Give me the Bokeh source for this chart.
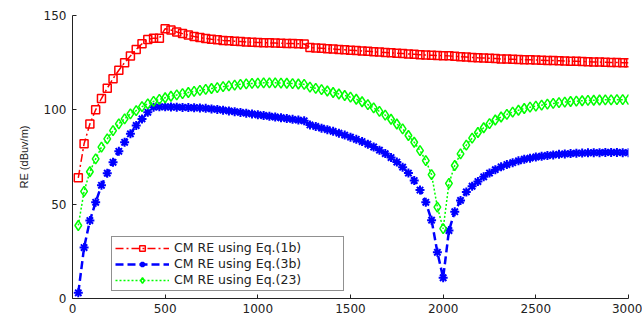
import numpy as np
from bokeh.plotting import figure
from bokeh.models import Legend, LegendItem, Label, FixedTicker, Range1d
from bokeh.embed import file_html
from bokeh.resources import INLINE

# Frequency samples (MHz)
freq = np.linspace(31.25, 3000, 96)

# CM RE using Eq.(1b)
re_1b = [64, 82, 92.5, 100, 106, 111.5, 116.5, 121, 125, 128.5,
         132, 135, 137.3, 138, 138, 143, 142.3, 141.3, 140.4, 139.6,
         138.9, 138.3, 137.8, 137.4, 137.1, 136.8, 136.6, 136.4, 136.2, 136,
         135.8, 135.7, 135.6, 135.5, 135.4, 135.3, 135.2, 135.1, 135, 134.9,
         133, 132.8, 132.6, 132.4, 132.2, 132, 131.8, 131.6, 131.4, 131.2,
         131, 130.8, 130.6, 130.4, 130.2, 130, 129.8, 129.6, 129.4, 129.2,
         129, 128.9, 128.8, 128.7, 128.6, 128.4, 128.2, 128, 127.8, 127.6,
         127.5, 127.3, 127.2, 127, 126.9, 126.8, 126.7, 126.6, 126.5, 126.4,
         126.3, 126.2, 126.1, 126, 125.9, 125.8, 125.7, 125.6, 125.5, 125.4,
         125.3, 125.2, 125.1, 125.1, 125, 125]

# CM RE using Eq.(3b)
re_3b = [3, 27, 41.3, 51, 60, 66.4, 72.2, 78, 82.8, 87.3,
         91.7, 95.2, 98.7, 101.4, 101.6, 101.6, 101.5, 101.4, 101.3, 101.2,
         101.1, 101, 100.8, 100.5, 100.2, 99.8, 99.4, 99, 98.6, 98.2,
         97.8, 97.4, 97, 96.6, 96.2, 95.8, 95.4, 95, 94.6, 94.2,
         92, 91.2, 90.3, 89.5, 88.6, 87.6, 86.6, 85.5, 84.4, 83.2,
         81.8, 80.3, 78.6, 76.8, 74.7, 72.3, 69.6, 66.5, 62.5, 57.5,
         51, 41.5, 24.5, 11, 36, 46, 52, 56.5, 59.5, 62,
         64.5, 66.5, 68.3, 69.8, 71, 72, 73, 73.8, 74.4, 75,
         75.4, 75.8, 76.1, 76.4, 76.6, 76.8, 77, 77.1, 77.2, 77.3,
         77.3, 77.4, 77.4, 77.4, 77.3, 77.3]

# CM RE using Eq.(23)
re_23 = [38.7, 56.8, 67.2, 74, 80.2, 84.6, 89, 92.6, 95.2, 97.9,
         99.6, 101.7, 103.2, 104.5, 105.5, 106.4, 107.2, 107.9, 108.6, 109.2,
         109.8, 110.3, 110.8, 111.3, 111.8, 112.3, 112.7, 113.1, 113.5, 113.8,
         114, 114.2, 114.3, 114.3, 114.3, 114.2, 114.1, 113.9, 113.7, 113.5,
         112, 111.4, 110.7, 110, 109.2, 108.4, 107.6, 106.7, 105.6, 104.3,
         102.8, 101, 99.2, 97.2, 95, 92.5, 89.9, 86.4, 82.8, 78.4,
         73.1, 65.7, 48.4, 37, 61, 70.5, 76.7, 81.3, 85, 88,
         90.5, 92.7, 94.6, 96.2, 97.6, 98.8, 99.8, 100.7, 101.4, 102,
         102.5, 103, 103.4, 103.8, 104.1, 104.4, 104.6, 104.8, 105, 105.1,
         105.2, 105.3, 105.3, 105.4, 105.4, 105.4]

labels = ["CM RE using Eq.(1b)", "CM RE using Eq.(3b)", "CM RE using Eq.(23)"]
x_ticks = [0, 500, 1000, 1500, 2000, 2500, 3000]
y_ticks = [0, 50, 100, 150]

p = figure(width=642, height=329, output_backend="svg", toolbar_location=None,
           x_range=Range1d(0, 3000), y_range=Range1d(0, 150),
           min_border_left=72, min_border_right=14, min_border_top=15, min_border_bottom=31)
p.outline_line_color = None
p.xgrid.visible = False
p.ygrid.visible = False
p.background_fill_color = "white"
p.border_fill_color = "white"

for ax in (p.xaxis[0], p.yaxis[0]):
    ax.ticker = FixedTicker(ticks=x_ticks if ax is p.xaxis[0] else y_ticks)
    ax.major_tick_in = 4
    ax.major_tick_out = 0
    ax.minor_tick_line_color = None
    ax.axis_line_color = "#222222"
    ax.major_tick_line_color = "#222222"
    ax.major_label_text_font = "DejaVu Sans"
    ax.major_label_text_font_size = "12px"
    ax.major_label_text_color = "#222222"

p.xaxis.major_label_standoff = 5
p.yaxis.major_label_standoff = 6
p.yaxis.axis_label = "RE (dBuv/m)"
p.yaxis.axis_label_text_font = "Liberation Sans"
p.yaxis.axis_label_text_font_size = "11px"
p.yaxis.axis_label_text_font_style = "normal"
p.yaxis.axis_label_text_color = "#222222"
p.yaxis.axis_label_standoff = 11

r_line = p.line(freq, re_1b, line_color="#ff0000", line_width=1.5, line_dash="8 3 2 3")
r_mark = p.scatter(freq, re_1b, marker="square", size=8, fill_color=None,
                   line_color="#ff0000", line_width=1.5)
b_line = p.line(freq, re_3b, line_color="#0000ff", line_width=2.5, line_dash="8 4")
b_mark = p.scatter(freq, re_3b, marker="asterisk", size=9,
                   line_color="#0000ff", line_width=2)
g_line = p.line(freq, re_23, line_color="#00ff00", line_width=1.5, line_dash="2 2")
g_mark = p.scatter(freq, re_23, marker="diamond", size=10, fill_color=None,
                   line_color="#00ff00", line_width=1.5)

legend = Legend(items=[
    LegendItem(label=labels[0], renderers=[r_line, r_mark]),
    LegendItem(label=labels[1], renderers=[b_line, b_mark]),
    LegendItem(label=labels[2], renderers=[g_line, g_mark]),
], location=(39, 7))
legend.border_line_color = "#222222"
legend.border_line_width = 1
legend.background_fill_color = "white"
legend.background_fill_alpha = 1
legend.label_text_font = "DejaVu Sans"
legend.label_text_font_size = "12.5px"
legend.label_text_color = "#222222"
legend.glyph_width = 54
legend.glyph_height = 14
legend.label_height = 14
legend.label_standoff = 5
legend.spacing = 1
legend.padding = 3
legend.margin = 0
legend.label_width = 166
p.add_layout(legend)

xlab = Label(x=1500, y=-15.9, x_units="data", y_units="data", text="Frequency(MHz)",
             text_align="center", text_baseline="bottom", text_font="DejaVu Sans",
             text_font_size="12.5px", text_color="#222222")
p.add_layout(xlab)

open("out.html", "w").write(file_html(p, INLINE))
